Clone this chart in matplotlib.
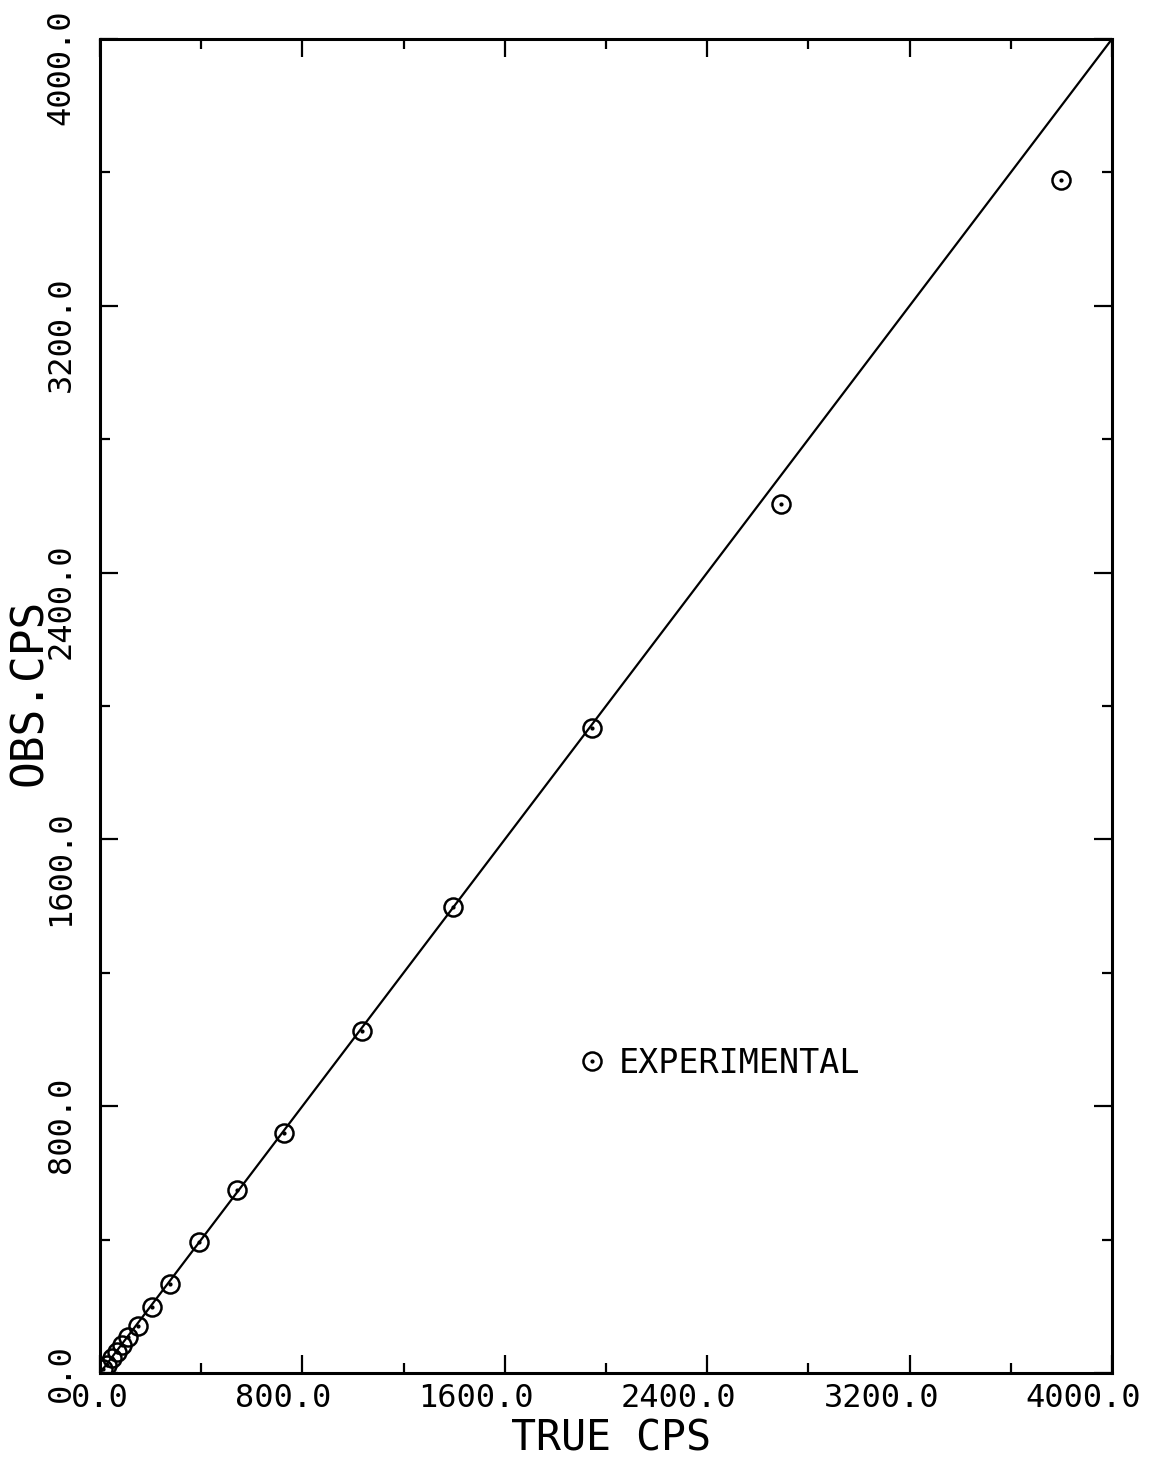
import matplotlib
matplotlib.use("Agg")
import matplotlib.pyplot as plt
from matplotlib.ticker import MultipleLocator
from matplotlib.legend_handler import HandlerTuple

# counting-rate data: true vs observed counts per second
true_cps = [11, 26, 46, 66, 86, 112, 149, 204, 277, 391, 542, 727,
            1036, 1395, 1945, 2692, 3797]
obs_cps = [12, 24, 45, 64, 84, 109, 141, 199, 267, 393, 549, 720,
           1025, 1397, 1934, 2607, 3577]

# ideal response (obs = true)
ideal = [0, 4000]

tick_values = [0, 800, 1600, 2400, 3200, 4000]
tick_labels = ["0.0", "800.0", "1600.0", "2400.0", "3200.0", "4000.0"]

plt.rcParams["font.family"] = ["DejaVu Sans Mono", "DejaVu Sans"]

fig = plt.figure(figsize=(11.49, 14.77), dpi=100)
ax = fig.add_axes([0.0870, 0.0704, 0.8808, 0.9032])

ax.plot(ideal, ideal, color="black", lw=1.6)
circ, = ax.plot(true_cps, obs_cps, ls="none", marker="o", ms=13,
                mfc="none", mec="black", mew=1.8)
dot, = ax.plot(true_cps, obs_cps, ls="none", marker="o", ms=2,
               color="black")

ax.set_xlim(0, 4000)
ax.set_ylim(0, 4000)
for s in ax.spines.values():
    s.set_linewidth(2.2)

ax.xaxis.set_major_locator(MultipleLocator(800))
ax.xaxis.set_minor_locator(MultipleLocator(400))
ax.yaxis.set_major_locator(MultipleLocator(800))
ax.yaxis.set_minor_locator(MultipleLocator(400))
ax.tick_params(which="both", direction="in", top=True, right=True,
               labelbottom=False, labelleft=False, width=1.6)
ax.tick_params(which="major", length=13)
ax.tick_params(which="minor", length=7)

# tick labels with the decimal point sitting on the tick
fs = 23
char_w = 0.6 * fs
for v, lab in zip(tick_values, tick_labels):
    n_int = lab.index(".")
    shift = (n_int + 0.5) * char_w
    ax.annotate(lab, xy=(v, 0), xycoords=("data", "axes fraction"),
                xytext=(-shift, -7), textcoords="offset points",
                ha="left", va="top", fontsize=fs)
    ax.annotate(lab, xy=(0, v), xycoords=("axes fraction", "data"),
                xytext=(-28, -shift), textcoords="offset points",
                ha="left", va="center", rotation=90,
                rotation_mode="anchor", fontsize=fs)

ax.set_xlabel("TRUE CPS", fontsize=30, va="center")
ax.xaxis.set_label_coords(0.505, -0.049)
ax.set_ylabel("OBS.CPS", fontsize=32, va="center")
ax.yaxis.set_label_coords(-0.070, 0.51)

ax.legend([(circ, dot)], ["EXPERIMENTAL"],
          handler_map={tuple: HandlerTuple(ndivide=1)},
          loc="center left", bbox_to_anchor=(0.470, 0.232),
          frameon=False, fontsize=24, borderpad=0, borderaxespad=0,
          handlelength=1.0, handletextpad=0.3)

fig.savefig("out.png", dpi=100)
